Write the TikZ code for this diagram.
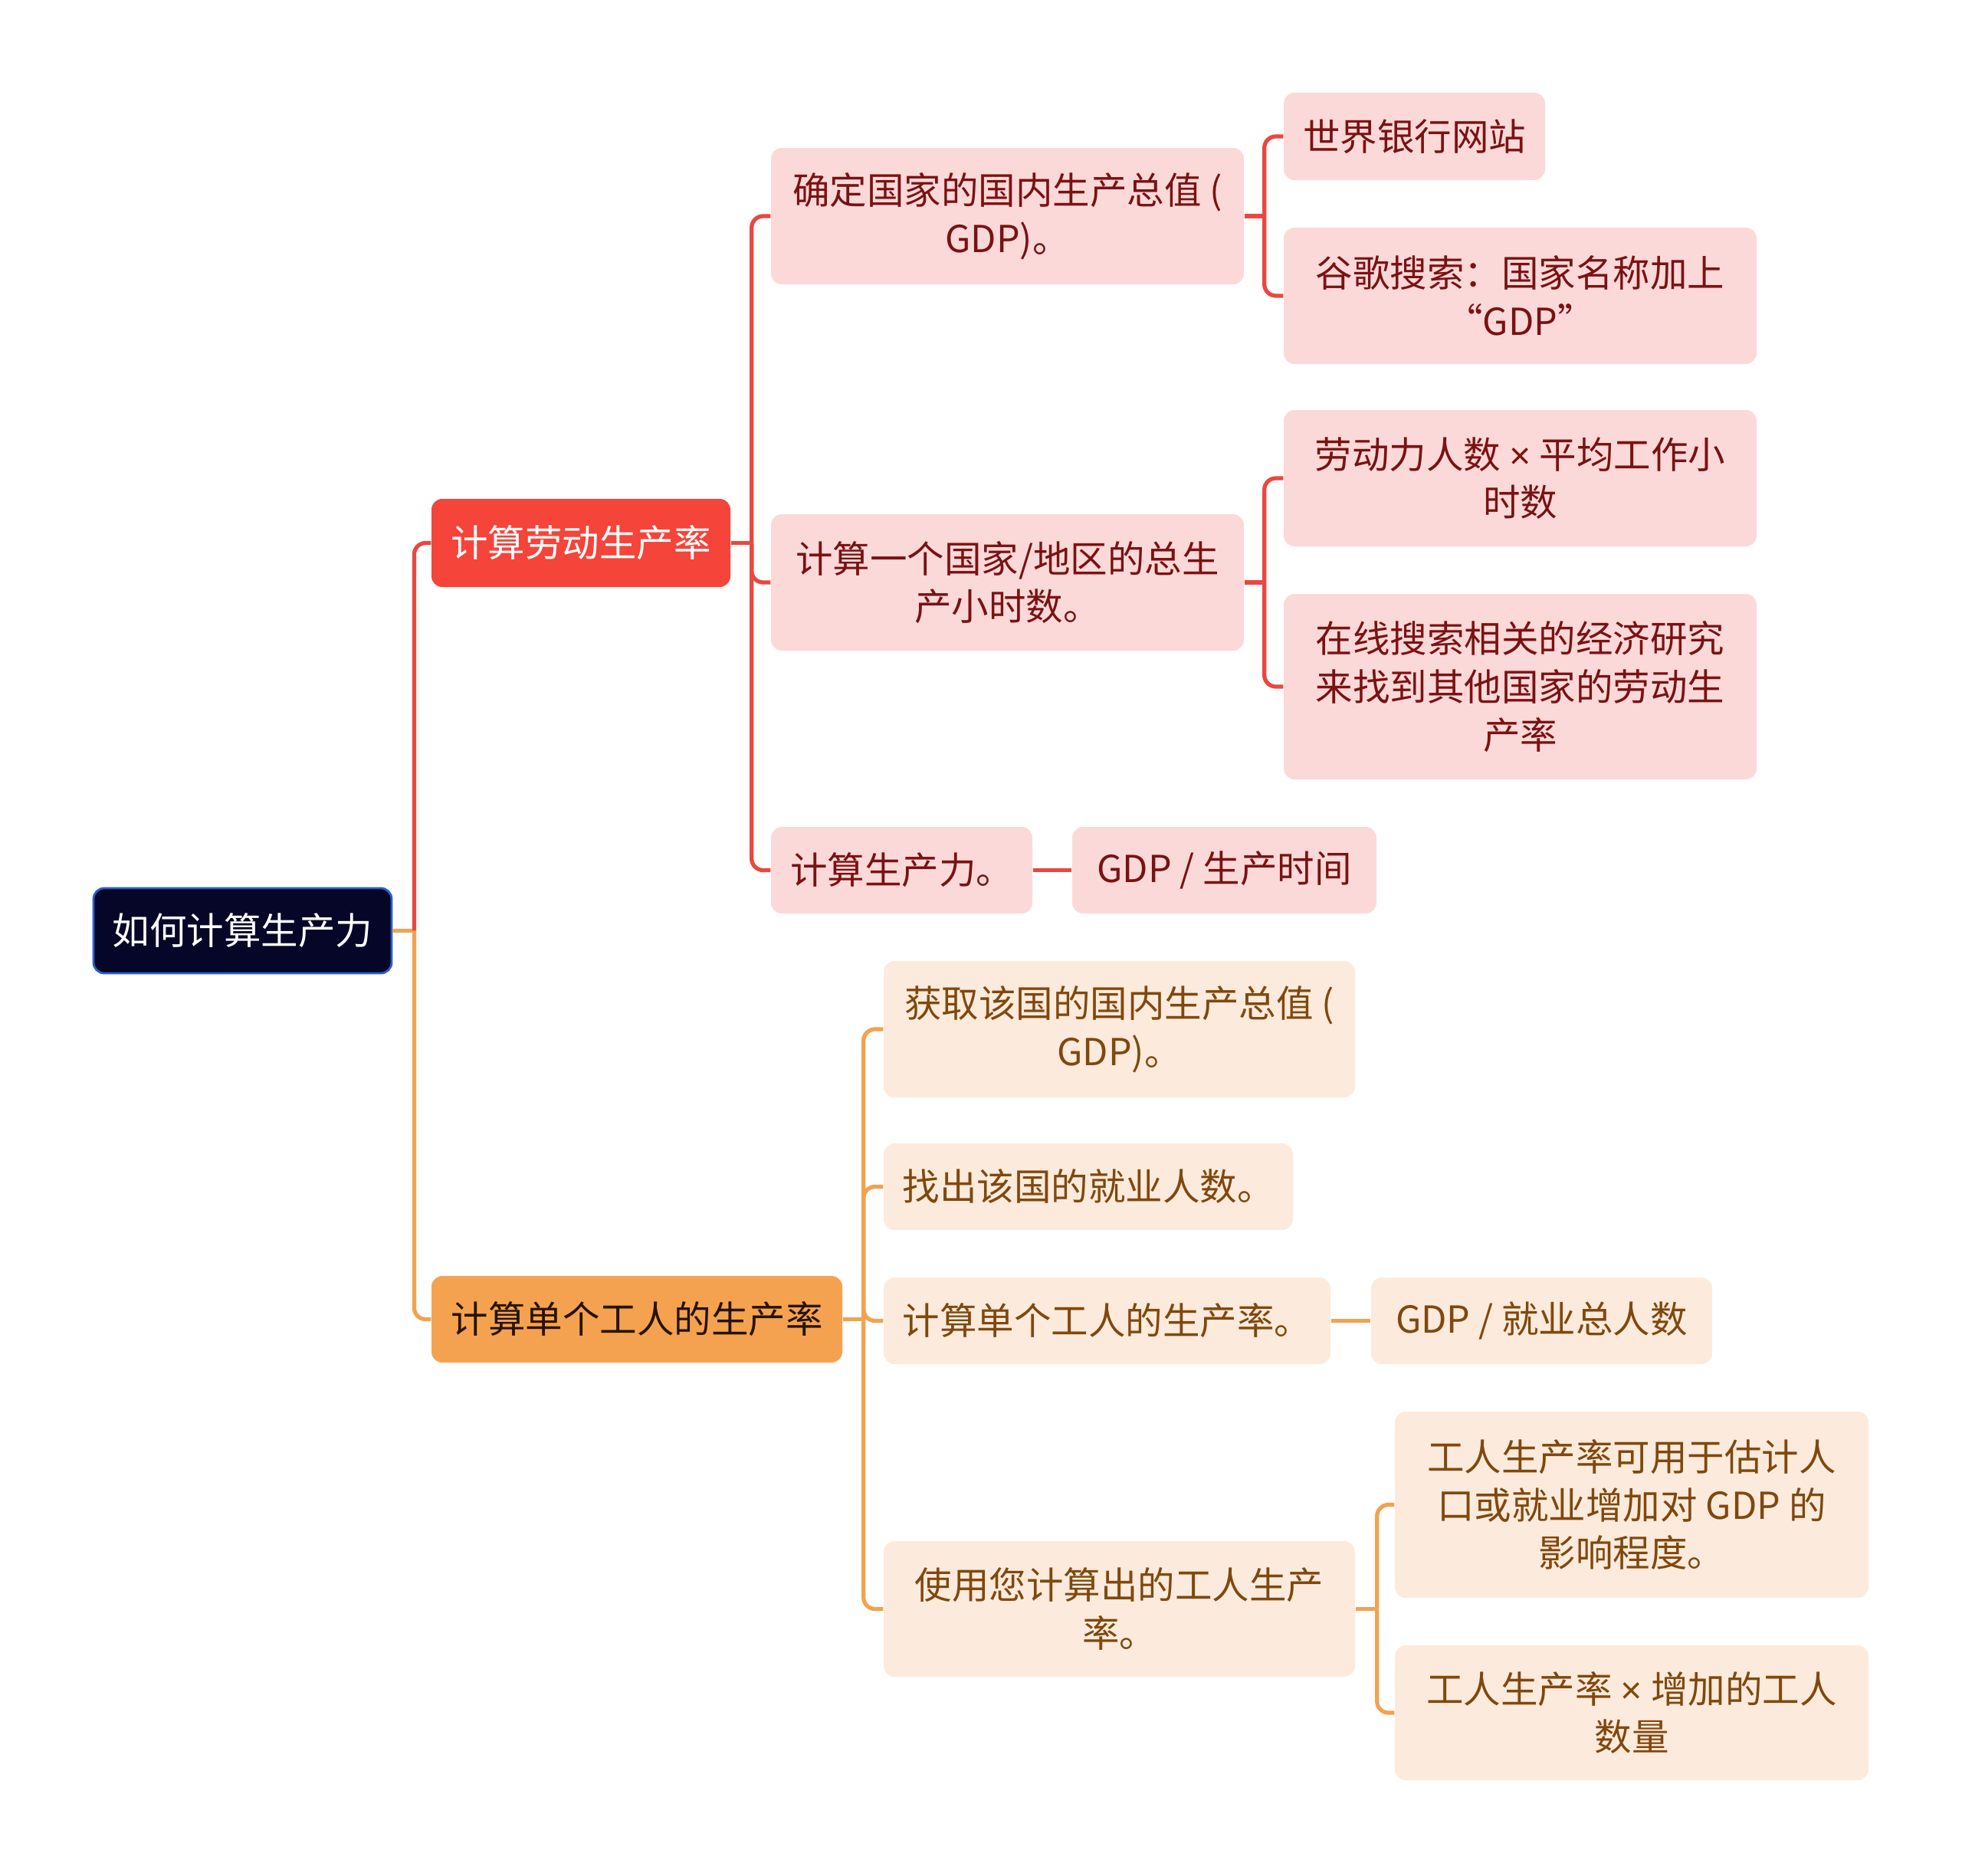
\documentclass[tikz,border=0pt]{standalone}
\usepackage{fontspec}
\usepackage{xcolor}
\usepackage{tikz}
\usetikzlibrary{positioning,calc}
\newfontfamily\cjk{Noto Sans CJK SC}
\newfontfamily\latinsans{Liberation Sans}
\newcommand{\timessign}{{\latinsans ×}}
\definecolor{rootfill}{RGB}{6,6,40}
\definecolor{rootline}{RGB}{45,95,200}
\definecolor{redhead}{RGB}{245,68,58}
\definecolor{orangehead}{RGB}{244,162,80}
\definecolor{pinkfill}{RGB}{252,217,217}
\definecolor{peachfill}{RGB}{252,235,220}
\definecolor{redtext}{RGB}{122,18,18}
\definecolor{browntext}{RGB}{128,72,14}
\definecolor{redwire}{RGB}{232,72,64}
\definecolor{orangewire}{RGB}{240,163,80}
\tikzset{
  basebox/.style={rounded corners=1.4mm, inner sep=0pt, align=center, font=\cjk\fontsize{13.8pt}{17.8pt}\selectfont},
  rootbox/.style={basebox, draw=rootline, line width=0.8pt, fill=rootfill, text=white},
  laborbox/.style={basebox, fill=redhead, text=white},
  workerbox/.style={basebox, fill=orangehead, text=black!85!orange},
  pinkbox/.style={basebox, fill=pinkfill, text=redtext},
  peachbox/.style={basebox, fill=peachfill, text=browntext},
  redline/.style={draw=redwire, line width=1.5pt, rounded corners=1.5mm},
  orangeline/.style={draw=orangewire, line width=1.5pt, rounded corners=1.5mm}
}
\begin{document}
\begin{tikzpicture}[x=1cm,y=1cm]
  \useasboundingbox (0,0) rectangle (25.6,-24.47);

  \node[rootbox, minimum width=3.89cm, minimum height=1.11cm] (root) at (3.165,-12.145) {如何计算生产力};

  \node[laborbox, minimum width=3.90cm, minimum height=1.15cm] (labor) at (7.58,-7.085) {计算劳动生产率};
  \node[workerbox, minimum width=5.36cm, minimum height=1.13cm] (worker) at (8.31,-17.215) {计算单个工人的生产率};

  % labour productivity branch
  \node[pinkbox, minimum width=6.17cm, minimum height=1.78cm] (gdpa) at (13.145,-2.82) {确定国家的国内生产总值 (\\GDP)。};
  \node[pinkbox, minimum width=6.17cm, minimum height=1.78cm] (hours) at (13.145,-7.60) {计算一个国家/地区的总生\\产小时数。};
  \node[pinkbox, minimum width=3.41cm, minimum height=1.13cm] (prod) at (11.765,-11.355) {计算生产力。};
  \node[pinkbox, minimum width=3.97cm, minimum height=1.13cm] (prodf) at (15.975,-11.355) {GDP / 生产时间};
  \node[pinkbox, minimum width=3.41cm, minimum height=1.14cm] (bank) at (18.455,-1.78) {世界银行网站};
  \node[pinkbox, minimum width=6.17cm, minimum height=1.78cm] (google) at (19.835,-3.86) {谷歌搜索：国家名称加上\\“GDP”};
  \node[pinkbox, minimum width=6.17cm, minimum height=1.78cm] (force) at (19.835,-6.24) {劳动力人数 \timessign{} 平均工作小\\时数};
  \node[pinkbox, minimum width=6.17cm, minimum height=2.42cm] (online) at (19.835,-8.96) {在线搜索相关的经济研究\\来找到其他国家的劳动生\\产率};

  % worker productivity branch
  \node[peachbox, minimum width=6.15cm, minimum height=1.78cm] (gdpb) at (14.605,-13.43) {获取该国的国内生产总值 (\\GDP)。};
  \node[peachbox, minimum width=5.34cm, minimum height=1.13cm] (employ) at (14.20,-15.485) {找出该国的就业人数。};
  \node[peachbox, minimum width=5.83cm, minimum height=1.13cm] (wprod) at (14.445,-17.235) {计算单个工人的生产率。};
  \node[peachbox, minimum width=4.45cm, minimum height=1.13cm] (wformula) at (20.115,-17.235) {GDP / 就业总人数};
  \node[peachbox, minimum width=6.15cm, minimum height=1.77cm] (useit) at (14.605,-20.995) {使用您计算出的工人生产\\率。};
  \node[peachbox, minimum width=6.18cm, minimum height=2.43cm] (estimate) at (21.29,-19.635) {工人生产率可用于估计人\\口或就业增加对 GDP 的\\影响程度。};
  \node[peachbox, minimum width=6.18cm, minimum height=1.76cm] (increase) at (21.29,-22.35) {工人生产率 \timessign{} 增加的工人\\数量};

  % connectors
  \draw[orangeline] (root.east) -- ++(0.28,0) coordinate (rootfork);
  \draw[redline] (rootfork) |- (labor.west);
  \draw[orangeline] (rootfork) |- (worker.west);

  \draw[redline] (labor.east) -- ++(0.27,0) coordinate (laborfork);
  \draw[redline] (laborfork) |- (gdpa.west);
  \draw[redline] (laborfork) |- (hours.west);
  \draw[redline] (laborfork) |- (prod.west);
  \draw[redline] (prod) -- (prodf);

  \draw[redline] (gdpa.east) -- ++(0.26,0) coordinate (gdpafork);
  \draw[redline] (gdpafork) |- (bank.west);
  \draw[redline] (gdpafork) |- (google.west);
  \draw[redline] (hours.east) -- ++(0.26,0) coordinate (hoursfork);
  \draw[redline] (hoursfork) |- (force.west);
  \draw[redline] (hoursfork) |- (online.west);

  \draw[orangeline] (worker.east) -- ++(0.27,0) coordinate (workerfork);
  \draw[orangeline] (workerfork) |- (gdpb.west);
  \draw[orangeline] (workerfork) |- (employ.west);
  \draw[orangeline] (workerfork) |- (wprod.west);
  \draw[orangeline] (workerfork) |- (useit.west);
  \draw[orangeline] (wprod) -- (wformula);

  \draw[orangeline] (useit.east) -- ++(0.28,0) coordinate (usefork);
  \draw[orangeline] (usefork) |- (estimate.west);
  \draw[orangeline] (usefork) |- (increase.west);
\end{tikzpicture}
\end{document}
